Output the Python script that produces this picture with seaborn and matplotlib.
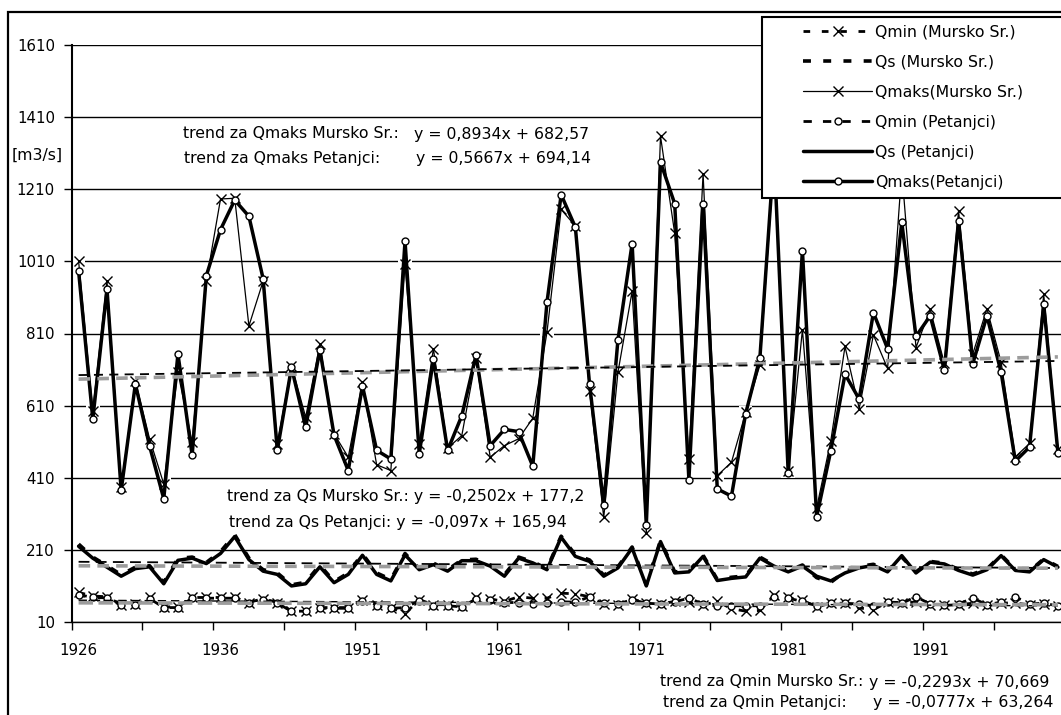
import numpy as np
import pandas as pd
import matplotlib
matplotlib.use("Agg")
import matplotlib.pyplot as plt
from matplotlib.patches import Rectangle
from matplotlib.ticker import FixedLocator, NullFormatter, FixedFormatter
import seaborn as sns

# ---------------- data ----------------
years = list(range(1926, 1941)) + list(range(1946, 2001))

qmin_mursko = [92, 82, 80, 58, 60, 78, 52, 52, 78, 78, 78, 78, 64, 75, 64, 40, 40, 50, 50, 50,
               72, 58, 50, 33, 72, 58, 58, 55, 78, 74, 67, 80, 76, 76, 90, 88, 80, 60, 58, 74,
               62, 60, 67, 65, 57, 67, 47, 40, 42, 84, 78, 70, 52, 62, 62, 49, 44, 65, 64, 65,
               58, 56, 58, 62, 56, 63, 62, 58, 60, 53]
qs_mursko = [226, 190, 166, 141, 162, 166, 120, 186, 190, 175, 205, 252, 187, 155, 146, 113, 120, 168, 122, 146,
             199, 146, 128, 200, 158, 173, 155, 182, 184, 168, 141, 190, 177, 158, 248, 196, 182, 140, 163, 218,
             113, 236, 149, 152, 195, 128, 134, 138, 190, 168, 152, 168, 133, 120, 150, 164, 170, 152, 190, 149,
             178, 173, 156, 143, 157, 196, 156, 151, 185, 164]
qmaks_mursko = [1011, 596, 956, 384, 678, 518, 393, 702, 509, 955, 1183, 1185, 831, 955, 504, 721, 578, 780, 532, 467,
                675, 446, 430, 1002, 504, 768, 492, 527, 741, 467, 499, 518, 575, 813, 1154, 1108, 651, 300, 702, 927,
                258, 1357, 1088, 463, 1253, 416, 453, 591, 722, 1290, 428, 821, 326, 513, 774, 602, 806, 713, 1260, 771,
                877, 727, 1150, 753, 879, 730, 468, 505, 919, 490]
qmin_petanjci = [86, 78, 77, 56, 57, 75, 50, 50, 76, 76, 76, 76, 62, 72, 62, 40, 40, 48, 48, 48,
                 68, 55, 48, 50, 69, 55, 55, 52, 74, 70, 64, 64, 60, 62, 66, 65, 80, 62, 60, 72,
                 62, 60, 66, 76, 60, 55, 55, 55, 55, 80, 76, 67, 55, 62, 62, 60, 55, 65, 62, 80,
                 60, 58, 60, 76, 58, 65, 80, 60, 62, 55]
qs_petanjci = [220, 187, 162, 137, 158, 163, 116, 181, 187, 172, 200, 247, 183, 151, 142, 110, 116, 163, 119, 142,
               195, 142, 124, 196, 155, 169, 151, 180, 180, 165, 137, 187, 174, 155, 245, 192, 178, 137, 160, 215,
               110, 233, 146, 149, 192, 125, 131, 135, 187, 165, 149, 165, 137, 124, 146, 160, 167, 149, 194, 146,
               176, 171, 153, 140, 155, 194, 153, 149, 183, 162]
qmaks_petanjci = [983, 573, 933, 375, 670, 498, 352, 753, 472, 970, 1098, 1180, 1135, 962, 486, 716, 550, 765, 528, 430,
                  665, 486, 462, 1066, 476, 739, 486, 582, 750, 499, 544, 538, 442, 896, 1195, 1105, 670, 335, 792, 1059,
                  280, 1285, 1170, 405, 1168, 379, 359, 588, 741, 1310, 422, 1040, 302, 485, 697, 628, 868, 768, 1118, 802,
                  859, 709, 1123, 726, 859, 702, 456, 495, 891, 480]

series_labels = ["Qmin (Mursko Sr.)", "Qs (Mursko Sr.)", "Qmaks(Mursko Sr.)",
                 "Qmin (Petanjci)", "Qs (Petanjci)", "Qmaks(Petanjci)"]

# trend equations as printed on the chart: [slope, intercept]
trend_qmaks_mursko = [0.8934, 682.57]
trend_qmaks_petanjci = [0.5667, 694.14]
trend_qs_mursko = [-0.2502, 177.2]
trend_qs_petanjci = [-0.097, 165.94]
trend_qmin_mursko = [-0.2293, 70.669]
trend_qmin_petanjci = [-0.0777, 63.264]

y_ticks = [10, 210, 410, 610, 810, 1010, 1210, 1410, 1610]
x_tick_labels = ["1926", "1936", "1951", "1961", "1971", "1981", "1991"]
y_unit = "[m3/s]"

# ---------------- style ----------------
sns.set_theme(style="white", rc={"text.color": "black", "xtick.color": "black",
                                 "ytick.color": "black", "axes.labelcolor": "black"})
plt.rcParams["font.family"] = ["DejaVu Sans"]

W, H = 1061, 715
fig = plt.figure(figsize=(W / 100, H / 100), dpi=100)
fig.patch.set_facecolor("white")


def fx(px):
    return px / W


def fy(py):
    return 1 - py / H


ax = fig.add_axes([fx(71.5), fy(622), fx(1065) - fx(71.5), fy(45) - fy(622)])
ax.set_facecolor("white")

df = pd.DataFrame({
    "i": np.arange(len(years)),
    "year": years,
    "qmin_m": qmin_mursko, "qs_m": qs_mursko, "qmaks_m": qmaks_mursko,
    "qmin_p": qmin_petanjci, "qs_p": qs_petanjci, "qmaks_p": qmaks_petanjci,
})

# white boxes behind Qmaks Mursko markers (break grid lines like the original)
sns.scatterplot(data=df, x="i", y="qmaks_m", marker="s", s=95, color="white",
                edgecolor="none", linewidth=0, zorder=1.1, ax=ax, legend=False)

handles = []


def add_line(col, lw, dashes=None, marker=None, ms=None, mfc="none"):
    sns.lineplot(data=df, x="i", y=col, ax=ax, color="black", lw=lw,
                 marker=marker if marker else "", markersize=ms if ms else 0,
                 markeredgecolor="black", markerfacecolor=mfc,
                 markeredgewidth=1.0, zorder=2)
    ln = ax.lines[-1]
    if dashes is not None:
        ln.set_dashes(dashes)
    handles.append(ln)


add_line("qmin_m", 2.0, dashes=(2.4, 4.2), marker="x", ms=6.5)
add_line("qs_m", 2.6, dashes=(2.2, 3.4))
add_line("qmaks_m", 0.9, marker="x", ms=7)
add_line("qmin_p", 2.0, dashes=(3.0, 4.0), marker="o", ms=5, mfc="white")
add_line("qs_p", 2.5)
add_line("qmaks_p", 2.5, marker="o", ms=5, mfc="white")

# trend lines
xe = df["i"].to_numpy() + 1
gray = "#9c9c9c"
trend_specs = [
    (trend_qmaks_mursko, gray, 2.6, (3.2, 2.0)),
    (trend_qmaks_petanjci, "black", 1.3, (5.0, 3.5)),
    (trend_qs_mursko, "black", 1.3, (6.0, 3.5)),
    (trend_qs_petanjci, gray, 2.6, (3.2, 2.0)),
    (trend_qmin_mursko, "black", 1.0, (6.0, 3.5)),
    (trend_qmin_petanjci, gray, 2.6, (4.0, 1.5)),
]
for (sl, ic), col, lw, ds in trend_specs:
    sns.lineplot(x=df["i"], y=sl * xe + ic, ax=ax, color=col, lw=lw, zorder=3)
    ax.lines[-1].set_dashes(ds)

# axes
ax.set_xlim(-0.5, len(years) - 0.5)
ax.set_ylim(y_ticks[0], y_ticks[-1])
ax.set_xlabel("")
ax.set_ylabel("")
ax.set_yticks(y_ticks)
ax.set_yticklabels([str(v) for v in y_ticks])
ax.yaxis.grid(True, color="black", lw=1.0)
ax.xaxis.grid(False)
ax.set_axisbelow(True)

ax.xaxis.set_major_locator(FixedLocator(np.arange(-0.5, len(years), 5)))
ax.xaxis.set_major_formatter(NullFormatter())
label_pos = [years.index(int(s)) for s in x_tick_labels]
ax.xaxis.set_minor_locator(FixedLocator(label_pos))
ax.xaxis.set_minor_formatter(FixedFormatter(x_tick_labels))
ax.tick_params(axis="x", which="major", length=6, width=1, direction="out", bottom=True)
ax.tick_params(axis="x", which="minor", length=0, pad=15, labelsize=10.8, bottom=True)
ax.tick_params(axis="y", which="major", length=6, width=1, direction="out", pad=6,
               labelsize=10.8, left=True)

for s in ["top", "right"]:
    ax.spines[s].set_visible(False)
ax.spines["left"].set_color("black")
ax.spines["left"].set_linewidth(1.5)
ax.spines["bottom"].set_color("black")
ax.spines["bottom"].set_linewidth(1.0)

# outer chart frame (extends beyond the visible crop)
fig.patches.append(Rectangle((fx(8), -0.2), 1.5, fy(11.5) + 0.2, transform=fig.transFigure,
                             fill=False, ec="black", lw=1.6, zorder=0.5))

fs = 11.3
# unit label
fig.text(fx(12), fy(155), y_unit, fontsize=fs, ha="left", va="center")

# trend equation annotations
fig.text(fx(183), fy(134), "trend za Qmaks Mursko Sr.:", fontsize=fs, va="center")
fig.text(fx(414), fy(134), "y = 0,8934x + 682,57", fontsize=fs, va="center")
fig.text(fx(184), fy(159), "trend za Qmaks Petanjci:", fontsize=fs, va="center")
fig.text(fx(416), fy(159), "y = 0,5667x + 694,14", fontsize=fs, va="center")
fig.text(fx(227), fy(497), "trend za Qs Mursko Sr.: y = -0,2502x + 177,2", fontsize=fs, va="center")
fig.text(fx(229), fy(523), "trend za Qs Petanjci: y = -0,097x + 165,94", fontsize=fs, va="center")
fig.text(fx(660), fy(682), "trend za Qmin Mursko Sr.:", fontsize=fs, va="center")
fig.text(fx(869), fy(682), "y = -0,2293x + 70,669", fontsize=fs, va="center")
fig.text(fx(663), fy(703), "trend za Qmin Petanjci:", fontsize=fs, va="center")
fig.text(fx(873), fy(703), "y = -0,0777x + 63,264", fontsize=fs, va="center")

# legend box + legend
fig.patches.append(Rectangle((fx(762), fy(197.5)), 0.4, fy(16.5) - fy(197.5),
                             transform=fig.transFigure, fc="white", ec="black", lw=1.5, zorder=1.5))
fig.legend(handles, series_labels, loc="upper left", bbox_to_anchor=(fx(803), fy(24.5)),
           bbox_transform=fig.transFigure, frameon=False, borderpad=0, borderaxespad=0,
           handlelength=4.4, handletextpad=0.2, labelspacing=0.96, fontsize=fs, numpoints=1)

fig.savefig("out.png", dpi=100, facecolor="white")
